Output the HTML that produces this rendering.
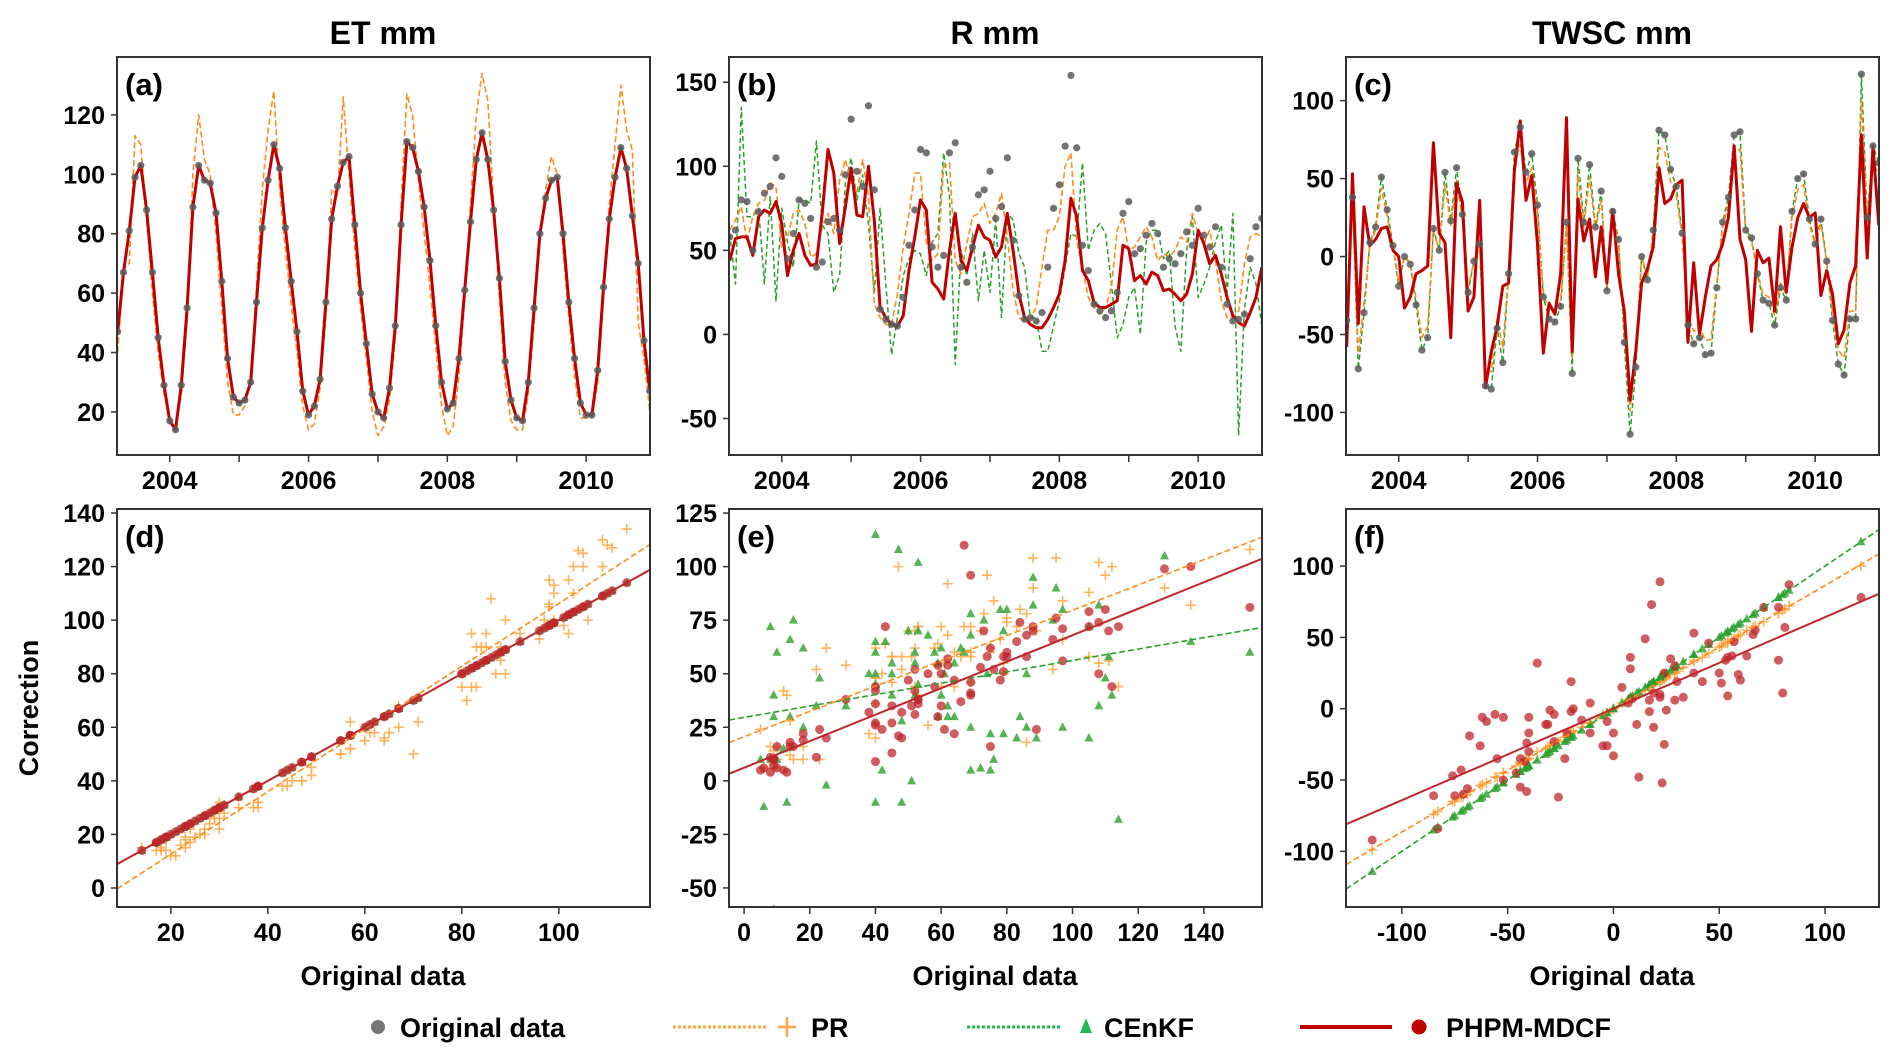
<!DOCTYPE html>
<html><head><meta charset="utf-8">
<style>
html,body{margin:0;padding:0;background:#fff;}
svg{display:block;font-family:"Liberation Sans",Arial,sans-serif;}
</style></head>
<body>
<svg id="fig" width="1892" height="1060" viewBox="0 0 1892 1060" xmlns="http://www.w3.org/2000/svg"></svg>
<script>
// ---------- DATA (monthly, Apr 2003 – Dec 2010) ----------
const startYear = 2003.25;
const etOrig = [47,67,81,99,103,88,67,45,29,
 17,14,29,55,89,103,98,97,87,64,38,25,
 23,24,30,57,82,98,110,102,82,64,47,27,
 19,22,31,57,85,96,104,106,83,60,43,26,
 20,18,28,49,83,111,109,101,89,71,49,30,
 21,23,38,61,84,105,114,105,88,65,37,24,
 18,17,30,55,80,92,98,99,80,57,38,23,
 19,19,34,62,85,99,109,102,86,70,44,27];
const etPR = [40,68,70,113,110,85,60,40,26,
 17,15,26,50,100,120,105,100,80,55,30,19,
 19,22,32,62,95,115,128,95,75,56,40,22,
 14,16,28,52,95,93,126,100,75,55,38,20,
 12,15,24,45,90,127,120,98,80,62,42,22,
 12,15,32,58,90,120,134,125,90,58,30,17,
 14,14,26,50,80,95,106,100,75,52,32,18,
 18,18,30,58,90,110,130,115,108,50,38,20];
const etCEnKF = [47,67,81,99,103,88,67,45,29,
 17,14,29,55,89,103,98,97,87,64,38,25,
 23,24,30,57,82,98,110,102,82,64,47,27,
 19,22,31,57,85,96,104,106,83,60,43,26,
 20,18,28,49,83,111,109,101,89,71,49,30,
 21,23,38,61,84,105,114,105,88,65,37,24,
 18,17,30,55,80,92,98,99,80,57,38,23,
 19,19,34,62,85,99,109,102,86,70,44,27];
const etPHPM = [47,67,81,99,103,88,67,45,29,
 17,14,29,55,89,103,98,97,87,64,38,25,
 23,24,30,57,82,98,110,102,82,64,47,27,
 19,22,31,57,85,96,104,106,83,60,43,26,
 20,18,28,49,83,111,109,101,89,71,49,30,
 21,23,38,61,84,105,114,105,88,65,37,24,
 18,17,30,55,80,92,98,99,80,57,38,23,
 19,19,34,62,85,99,109,102,86,70,44,27];

const rOrig = [58,62,80,79,50,73,84,88,105,94,45,
 60,80,78,69,40,43,67,69,62,95,
 128,97,88,136,86,15,9,6,5,22,
 53,74,110,108,52,40,47,108,114,40,
 31,52,83,86,97,69,76,105,56,23,
 9,10,8,13,40,75,89,112,154,111,
 53,38,18,14,10,14,25,72,79,48,
 51,59,66,60,40,45,42,48,61,53,
 75,59,52,64,40,18,8,9,12,45,
 64,69];
const rPR = [62,68,76,55,70,78,80,90,88,52,
 58,72,74,66,46,48,64,72,60,92,
 104,90,84,104,82,18,10,6,6,24,
 52,72,96,96,55,44,48,100,102,44,
 36,54,70,72,78,66,72,84,58,26,
 10,8,10,16,40,62,62,70,100,108,
 56,40,22,16,12,16,28,62,70,50,
 52,58,64,58,44,48,46,50,58,55,
 72,60,54,62,44,20,10,10,14,42,
 58,60,58];
const rCEnKF = [60,30,135,70,70,75,30,82,20,75,
 55,40,80,80,78,115,65,60,25,35,
 90,105,80,95,65,25,75,30,-12,10,
 35,45,50,48,35,55,60,108,82,-18,
 50,35,60,20,50,25,68,10,72,68,
 48,40,10,10,-10,-10,5,20,40,60,
 58,102,50,62,66,60,30,-2,6,22,
 28,0,55,62,62,45,50,5,-10,50,
 70,22,30,40,55,65,25,72,-60,15,
 40,30,5];
const rPHPM = [44,57,58,58,47,70,74,72,79,66,
 35,50,60,47,41,42,72,110,96,54,
 76,99,71,70,100,68,16,10,6,5,
 11,38,58,80,74,31,27,21,50,72,
 44,38,52,65,58,56,46,52,72,50,
 24,10,6,4,4,9,16,24,44,81,
 70,38,32,19,16,16,18,20,53,51,
 32,35,30,37,35,26,27,24,20,24,
 36,62,54,42,47,36,22,11,7,5,
 13,22,40];

const tOrig = [-41,38,-72,-36,9,19,51,30,7,-19,
 0,-5,-31,-60,-52,18,4,54,23,57,
 27,-23,-3,8,-83,-85,-46,-68,-11,67,
 83,54,66,33,-26,-40,-42,-32,22,-75,
 63,22,59,19,42,-22,29,11,-55,-114,
 -71,0,-15,17,81,78,56,45,15,-44,
 -56,-52,-63,-62,-20,22,38,78,80,17,
 12,-11,-28,-30,-44,-20,-28,29,50,53,
 24,8,24,-3,-41,-69,-76,-40,-40,117,
 25,71,60];
const tPR = [-36,34,-62,-30,8,17,44,26,6,-16,
 0,-4,-27,-52,-45,16,4,46,20,49,
 24,-20,-3,7,-72,-74,-40,-58,-10,58,
 72,47,57,29,-23,-35,-36,-28,19,-65,
 55,19,51,17,36,-19,25,10,-48,-99,
 -62,0,-13,15,70,67,48,39,13,-38,
 -48,-45,-54,-53,-17,19,33,67,69,15,
 10,-10,-24,-26,-38,-17,-24,25,43,46,
 21,7,21,-3,-35,-60,-65,-35,-35,100,
 22,61,52];
const tCEnKF = [-41,38,-72,-36,9,19,51,30,7,-19,
 0,-5,-31,-60,-52,18,4,54,23,57,
 27,-23,-3,8,-83,-85,-46,-68,-11,67,
 83,54,66,33,-26,-40,-42,-32,22,-75,
 63,22,59,19,42,-22,29,11,-55,-114,
 -71,0,-15,17,81,78,56,45,15,-44,
 -56,-52,-63,-62,-20,22,38,78,80,17,
 12,-11,-28,-30,-44,-20,-28,29,50,53,
 24,8,24,-3,-41,-69,-76,-40,-40,117,
 25,71,60];
const tPHPM = [-58,53,-43,32,7,11,18,19,4,0,
 -33,-26,-11,-9,-6,73,15,9,-52,47,
 35,-35,-26,36,-84,-61,-45,-19,-17,55,
 87,36,52,8,-62,-30,-37,-11,89,-61,
 37,10,24,-13,19,-17,30,-11,-35,-92,
 -60,-17,-8,6,57,34,37,46,49,-55,
 -4,-50,-26,-6,-2,8,25,71,11,-2,
 -48,4,-4,-1,-35,19,-23,6,25,34,
 25,28,-25,-9,-24,-56,-47,-17,-6,78,
 -1,71,20];

const yearTicks = [2004,2005,2006,2007,2008,2009,2010];
const yearLabels = [2004,2006,2008,2010];
const etTicks = [20,40,60,80,100,120];
const rTicks = [-50,0,50,100,150];
const tTicks = [-100,-50,0,50,100];
const dYTicks = [0,20,40,60,80,100,120,140];
const dXTicks = [20,40,60,80,100];
const eYTicks = [-50,-25,0,25,50,75,100,125];
const eXTicks = [0,20,40,60,80,100,120,140];
const fYTicks = [-100,-50,0,50,100];
const fXTicks = [-100,-50,0,50,100];

// ---------- DRAWING ----------
const NS = "http://www.w3.org/2000/svg";
const svg = document.getElementById('fig');
const C_ORIG = '#5a5a5a', C_PR = '#ff8c1a', C_EN = '#2ca02c', C_PH = '#c00000';
function mk(tag, parent){const e=document.createElementNS(NS,tag);(parent||svg).appendChild(e);return e;}
function linear(d0,d1,r0,r1){return v=>r0+(v-d0)*(r1-r0)/(d1-d0);}
let clipId=0;

function makePanel(name,x0,y0,w,h,xd,yd,label){
  const g=mk('g');
  
  
  const sx=linear(xd[0],xd[1],x0,x0+w), sy=linear(yd[0],yd[1],y0+h,y0);
  const cp=mk('clipPath',g); cp.setAttribute('id','cp'+(++clipId));
  const cr=mk('rect',cp); cr.setAttribute('x',x0);cr.setAttribute('y',y0);cr.setAttribute('width',w);cr.setAttribute('height',h);
  const plot=mk('g',g); plot.setAttribute('clip-path','url(#cp'+clipId+')');
  
  
  const fr=mk('rect',g); fr.setAttribute('x',x0);fr.setAttribute('y',y0);fr.setAttribute('width',w);fr.setAttribute('height',h);
  fr.setAttribute('fill','none');fr.setAttribute('stroke','#333');fr.setAttribute('stroke-width','2');
  
  
  const lb=mk('text',g); lb.setAttribute('x',x0+8);lb.setAttribute('y',y0+38);lb.setAttribute('font-size','31');lb.setAttribute('font-weight','bold');lb.textContent=label;
  
  
  return {g,plot,sx,sy,x0,y0,w,h};
}
function yAxis(p,ticks){
  ticks.forEach(v=>{
    const y=p.sy(v);
    const l=mk('line',p.g);l.setAttribute('x1',p.x0-6);l.setAttribute('x2',p.x0);l.setAttribute('y1',y);l.setAttribute('y2',y);l.setAttribute('stroke','#333');l.setAttribute('stroke-width','1.5');
    
    
    const t=mk('text',p.g);t.setAttribute('x',p.x0-12);t.setAttribute('y',y+9);t.setAttribute('text-anchor','end');t.setAttribute('font-size','25');t.setAttribute('font-weight','bold');t.textContent=v;
    
    
  });
}
function xAxis(p,ticks,labels){
  const yb=p.y0+p.h;
  ticks.forEach(v=>{
    const x=p.sx(v);
    const l=mk('line',p.g);l.setAttribute('x1',x);l.setAttribute('x2',x);l.setAttribute('y1',yb);l.setAttribute('y2',yb+7);l.setAttribute('stroke','#333');l.setAttribute('stroke-width','1.5');
    
    
  });
  labels.forEach(v=>{
    const t=mk('text',p.g);t.setAttribute('x',p.sx(v));t.setAttribute('y',yb+34);t.setAttribute('text-anchor','middle');t.setAttribute('font-size','25');t.setAttribute('font-weight','bold');t.textContent=v;
    
    
  });
}
function tseries(p,arr,color,width,dash,name){
  const d=arr.map((v,i)=>(i?'L':'M')+p.sx(startYear+i/12).toFixed(1)+','+p.sy(v).toFixed(1)).join('');
  const pa=mk('path',p.plot);pa.setAttribute('d',d);pa.setAttribute('fill','none');pa.setAttribute('stroke',color);pa.setAttribute('stroke-width',width);
  if(dash)pa.setAttribute('stroke-dasharray',dash);
  pa.setAttribute('stroke-linejoin','round');
  
  
}
function tpoints(p,arr){
  arr.forEach((v,i)=>{
    const c=mk('circle',p.plot);c.setAttribute('cx',p.sx(startYear+i/12));c.setAttribute('cy',p.sy(v));c.setAttribute('r','3.6');c.setAttribute('fill',C_ORIG);c.setAttribute('opacity','0.85');
    
    
  });
}
function fit(xs,ys){
  const n=xs.length;let mx=0,my=0;xs.forEach((x,i)=>{mx+=x;my+=ys[i];});mx/=n;my/=n;
  let sxy=0,sxx=0;xs.forEach((x,i)=>{sxy+=(x-mx)*(ys[i]-my);sxx+=(x-mx)*(x-mx);});
  const b=sxy/sxx;return [b,my-b*mx];
}
function regLine(p,xd,xs,ys,color,width,dash,name){
  const [b,a]=fit(xs,ys);
  const l=mk('line',p.plot);l.setAttribute('x1',p.sx(xd[0]));l.setAttribute('x2',p.sx(xd[1]));l.setAttribute('y1',p.sy(a+b*xd[0]));l.setAttribute('y2',p.sy(a+b*xd[1]));
  l.setAttribute('stroke',color);l.setAttribute('stroke-width',width);if(dash)l.setAttribute('stroke-dasharray',dash);
  
  
}
function scatter(p,xs,pr,en,ph,xd){
  xs.forEach((x,i)=>{
    const X=p.sx(x),Y=p.sy(pr[i]);
    const pl=mk('path',p.plot);pl.setAttribute('d',`M${X-5},${Y}H${X+5}M${X},${Y-5}V${Y+5}`);pl.setAttribute('stroke','#ffa640');pl.setAttribute('stroke-width','1.6');pl.setAttribute('opacity','0.85');
    
    
  });
  xs.forEach((x,i)=>{
    const X=p.sx(x),Y=p.sy(en[i]);
    const tr=mk('path',p.plot);tr.setAttribute('d',`M${X},${Y-5}L${X+4.5},${Y+3.5}L${X-4.5},${Y+3.5}Z`);tr.setAttribute('fill','#2ca02c');tr.setAttribute('opacity','0.8');
    
    
  });
  xs.forEach((x,i)=>{
    const c=mk('circle',p.plot);c.setAttribute('cx',p.sx(x));c.setAttribute('cy',p.sy(ph[i]));c.setAttribute('r','4.5');c.setAttribute('fill','#c0262b');c.setAttribute('opacity','0.75');
    
    
  });
  regLine(p,xd,xs,en,'#2ca02c','1.6','6,3','cenkf-fit-line');
  regLine(p,xd,xs,pr,C_PR,'1.6','6,3','pr-fit-line');
  regLine(p,xd,xs,ph,'#c0262b','2','', 'phpm-fit-line');
}
function text(x,y,s,size,name,anchor,rot){
  const t=mk('text');t.setAttribute('x',x);t.setAttribute('y',y);t.setAttribute('font-size',size);t.setAttribute('font-weight','bold');t.setAttribute('text-anchor',anchor||'middle');
  if(rot)t.setAttribute('transform',`rotate(${rot} ${x} ${y})`);
  t.textContent=s;
  
  
}

const TD=[2003.24,2010.92];
const cols=[117,729,1346], PW=533, PH=398;
// Top row
const pa=makePanel('panel-a-et',cols[0],57,PW,PH,TD,[5.5,139.5],'(a)');
tseries(pa,etCEnKF,C_EN,1.5,'5,3','cenkf-line');
tseries(pa,etPR,C_PR,1.6,'6,3','pr-line');
tseries(pa,etPHPM,C_PH,3,'','phpm-line');
tpoints(pa,etOrig);
yAxis(pa,etTicks);xAxis(pa,yearTicks,yearLabels);

const pb=makePanel('panel-b-r',cols[1],57,PW,PH,TD,[-71.7,165],'(b)');
tseries(pb,rCEnKF,C_EN,1.5,'5,3','cenkf-line');
tseries(pb,rPR,C_PR,1.6,'6,3','pr-line');
tseries(pb,rPHPM,C_PH,3,'','phpm-line');
tpoints(pb,rOrig);
yAxis(pb,rTicks);xAxis(pb,yearTicks,yearLabels);

const pc=makePanel('panel-c-twsc',cols[2],57,PW,PH,TD,[-127.3,128],'(c)');
tseries(pc,tCEnKF,C_EN,1.5,'5,3','cenkf-line');
tseries(pc,tPR,C_PR,1.6,'6,3','pr-line');
tseries(pc,tPHPM,C_PH,3,'','phpm-line');
tpoints(pc,tOrig);
yAxis(pc,tTicks);xAxis(pc,yearTicks,yearLabels);

// Bottom row
const dX=[8.9,118.8];
const pd=makePanel('panel-d-et-scatter',cols[0],509,PW,PH,dX,[-7.1,141.5],'(d)');
scatter(pd,etOrig,etPR,etCEnKF,etPHPM,dX);
yAxis(pd,dYTicks);xAxis(pd,dXTicks,dXTicks);

const eX=[-4.6,157.7];
const pe=makePanel('panel-e-r-scatter',cols[1],509,PW,PH,eX,[-58.9,126.9],'(e)');
scatter(pe,rOrig,rPR,rCEnKF,rPHPM,eX);
yAxis(pe,eYTicks);xAxis(pe,eXTicks,eXTicks);

const fX=[-126.4,125.5];
const pf=makePanel('panel-f-twsc-scatter',cols[2],509,PW,PH,fX,[-139,140],'(f)');
scatter(pf,tOrig,tPR,tCEnKF,tPHPM,fX);
yAxis(pf,fYTicks);xAxis(pf,fXTicks,fXTicks);

// Titles & axis labels
text(383,44,'ET mm',32,'title-et');
text(995,44,'R mm',32,'title-r');
text(1612,44,'TWSC mm',32,'title-twsc');
text(383,985,'Original data',27,'x-axis-title-d');
text(995,985,'Original data',27,'x-axis-title-e');
text(1612,985,'Original data',27,'x-axis-title-f');
text(38,708,'Correction',27,'y-axis-title','middle',-90);

// Legend
const lg=mk('g');


function legEntry(name){const g=mk('g',lg);return g;}
const LY=1027;
let e1=legEntry('legend-entry-original');
let c1=mk('circle',e1);c1.setAttribute('cx',378);c1.setAttribute('cy',LY);c1.setAttribute('r',7);c1.setAttribute('fill','#777');
let t1=mk('text',e1);t1.setAttribute('x',400);t1.setAttribute('y',LY+10);t1.setAttribute('font-size',27);t1.setAttribute('font-weight','bold');t1.textContent='Original data';
let e2=legEntry('legend-entry-pr');
let l2=mk('line',e2);l2.setAttribute('x1',673);l2.setAttribute('x2',767);l2.setAttribute('y1',LY);l2.setAttribute('y2',LY);l2.setAttribute('stroke','#ffa640');l2.setAttribute('stroke-width',3);l2.setAttribute('stroke-dasharray','3,2');
let p2=mk('path',e2);p2.setAttribute('d',`M778,${LY}H796M787,${LY-10}V${LY+10}`);p2.setAttribute('stroke','#ffa640');p2.setAttribute('stroke-width',2.5);
let t2=mk('text',e2);t2.setAttribute('x',811);t2.setAttribute('y',LY+10);t2.setAttribute('font-size',27);t2.setAttribute('font-weight','bold');t2.textContent='PR';
let e3=legEntry('legend-entry-cenkf');
let l3=mk('line',e3);l3.setAttribute('x1',967);l3.setAttribute('x2',1061);l3.setAttribute('y1',LY);l3.setAttribute('y2',LY);l3.setAttribute('stroke','#1db954');l3.setAttribute('stroke-width',3);l3.setAttribute('stroke-dasharray','3,2');
let p3=mk('path',e3);p3.setAttribute('d',`M1086,${LY-9}L1092,${LY+6}L1080,${LY+6}Z`);p3.setAttribute('fill','#1db954');
let t3=mk('text',e3);t3.setAttribute('x',1104);t3.setAttribute('y',LY+10);t3.setAttribute('font-size',27);t3.setAttribute('font-weight','bold');t3.textContent='CEnKF';
let e4=legEntry('legend-entry-phpm');
let l4=mk('line',e4);l4.setAttribute('x1',1300);l4.setAttribute('x2',1392);l4.setAttribute('y1',LY);l4.setAttribute('y2',LY);l4.setAttribute('stroke',C_PH);l4.setAttribute('stroke-width',4);
let c4=mk('circle',e4);c4.setAttribute('cx',1419);c4.setAttribute('cy',LY);c4.setAttribute('r',7.5);c4.setAttribute('fill',C_PH);
let t4=mk('text',e4);t4.setAttribute('x',1446);t4.setAttribute('y',LY+10);t4.setAttribute('font-size',27);t4.setAttribute('font-weight','bold');t4.textContent='PHPM-MDCF';
</script>
</body></html>
